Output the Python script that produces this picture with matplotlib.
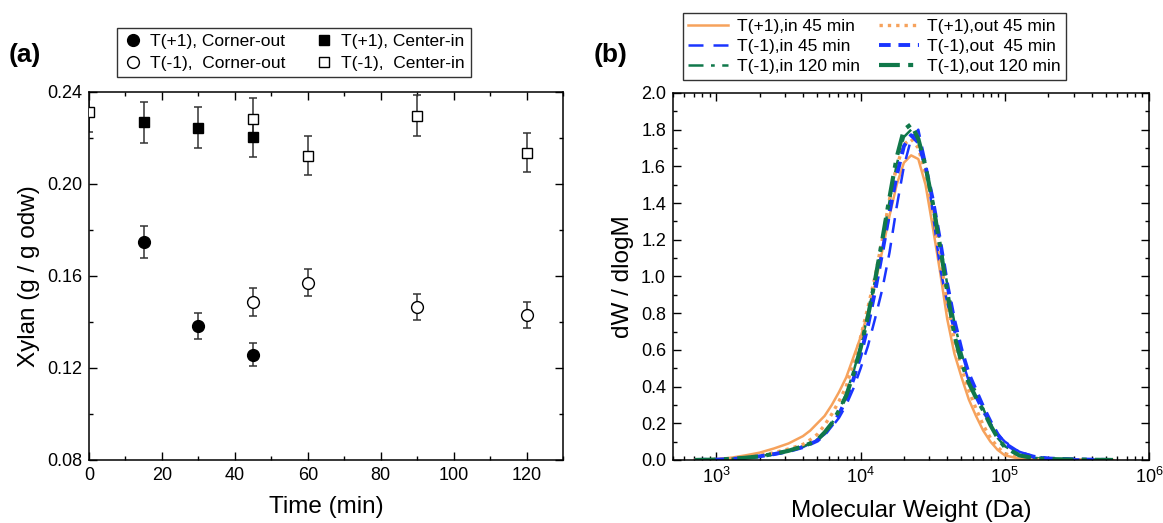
import numpy as np
import matplotlib
matplotlib.use("Agg")
import matplotlib.pyplot as plt
from matplotlib.ticker import MultipleLocator, LogLocator, NullFormatter

plt.rcParams['font.family'] = ['Liberation Sans', 'DejaVu Sans']
plt.rcParams['mathtext.fontset'] = 'custom'
plt.rcParams['mathtext.rm'] = 'Liberation Sans'
plt.rcParams['mathtext.it'] = 'Liberation Sans:italic'

# ---- panel (a): xylan content ----
t_hot_corner = [15, 30, 45]
x_hot_corner = [0.1747, 0.1383, 0.1257]
e_hot_corner = [0.007, 0.0057, 0.005]

t_cold_corner = [45, 60, 90, 120]
x_cold_corner = [0.1488, 0.1571, 0.1465, 0.1429]
e_cold_corner = [0.006, 0.006, 0.0057, 0.0057]

t_hot_center = [15, 30, 45]
x_hot_center = [0.2268, 0.2245, 0.2206]
e_hot_center = [0.009, 0.009, 0.009]

t_cold_center = [0, 45, 60, 90, 120]
x_cold_center = [0.2314, 0.2283, 0.2122, 0.2297, 0.2136]
e_cold_center = [0.009, 0.009, 0.0085, 0.009, 0.0085]

# ---- panel (b): molecular weight distributions ----
log_m = [2.85, 3.0, 3.1, 3.2, 3.3, 3.4, 3.5, 3.6, 3.65, 3.7, 3.75, 3.8, 3.85, 3.9,
         3.95, 4.0, 4.05, 4.1, 4.15, 4.2, 4.25, 4.3, 4.35, 4.4, 4.45, 4.5, 4.55,
         4.6, 4.65, 4.7, 4.75, 4.8, 4.85, 4.9, 4.95, 5.0, 5.1, 5.2, 5.3, 5.5, 5.75]

hot_in_45 = [0.0, 0.005, 0.012, 0.025, 0.04, 0.063, 0.09, 0.13, 0.16, 0.2, 0.24, 0.3,
             0.37, 0.45, 0.56, 0.67, 0.8, 0.96, 1.14, 1.33, 1.5, 1.62, 1.66, 1.64,
             1.5, 1.27, 1.03, 0.77, 0.58, 0.45, 0.33, 0.24, 0.16, 0.1, 0.055, 0.025,
             0.007, 0.002, 0.0, 0.0, 0.0]
hot_out_45 = [0.0, 0.003, 0.008, 0.015, 0.025, 0.04, 0.06, 0.085, 0.11, 0.14, 0.19, 0.25,
              0.32, 0.4, 0.53, 0.67, 0.83, 1.0, 1.2, 1.42, 1.6, 1.72, 1.75, 1.7,
              1.56, 1.36, 1.12, 0.86, 0.65, 0.5, 0.38, 0.28, 0.19, 0.12, 0.07, 0.035,
              0.01, 0.004, 0.001, 0.0, 0.0]
cold_in_45 = [0.0, 0.002, 0.005, 0.01, 0.02, 0.03, 0.045, 0.07, 0.09, 0.11, 0.14, 0.18,
              0.23, 0.3, 0.39, 0.5, 0.62, 0.77, 0.93, 1.13, 1.38, 1.6, 1.75, 1.8,
              1.62, 1.35, 1.05, 0.86, 0.7, 0.55, 0.43, 0.34, 0.26, 0.2, 0.14, 0.1,
              0.045, 0.02, 0.01, 0.003, 0.0]
cold_out_45 = [0.0, 0.002, 0.005, 0.011, 0.02, 0.032, 0.048, 0.07, 0.087, 0.105, 0.14, 0.19,
               0.25, 0.33, 0.44, 0.57, 0.73, 0.92, 1.13, 1.35, 1.55, 1.71, 1.77, 1.73,
               1.6, 1.42, 1.2, 0.96, 0.76, 0.6, 0.47, 0.38, 0.29, 0.21, 0.14, 0.09,
               0.04, 0.018, 0.008, 0.003, 0.0]
cold_in_120 = [0.0, 0.002, 0.006, 0.012, 0.021, 0.034, 0.05, 0.074, 0.09, 0.112, 0.15, 0.2,
               0.27, 0.36, 0.48, 0.62, 0.79, 0.98, 1.19, 1.41, 1.61, 1.76, 1.8, 1.74,
               1.6, 1.41, 1.19, 0.96, 0.75, 0.58, 0.45, 0.37, 0.28, 0.19, 0.12, 0.075,
               0.03, 0.012, 0.005, 0.002, 0.0]
cold_out_120 = [0.0, 0.002, 0.006, 0.012, 0.02, 0.033, 0.05, 0.075, 0.09, 0.11, 0.15, 0.2,
                0.27, 0.35, 0.47, 0.61, 0.78, 0.98, 1.2, 1.43, 1.65, 1.8, 1.83, 1.75,
                1.6, 1.4, 1.17, 0.92, 0.68, 0.53, 0.42, 0.34, 0.27, 0.19, 0.12, 0.07,
                0.025, 0.01, 0.005, 0.002, 0.0]

orange = '#f6a25c'
blue = '#1a35ff'
green = '#10784a'
ebar = '#333333'

fig = plt.figure(figsize=(11.63, 5.23), dpi=100)
ax1 = fig.add_axes([0.0765, 0.1205, 0.4076, 0.7036])
ax2 = fig.add_axes([0.5787, 0.1205, 0.4093, 0.7017])

# error bars first, then markers on top
for t, v, e in [(t_hot_corner, x_hot_corner, e_hot_corner),
                (t_cold_corner, x_cold_corner, e_cold_corner),
                (t_hot_center, x_hot_center, e_hot_center),
                (t_cold_center, x_cold_center, e_cold_center)]:
    ax1.errorbar(t, v, yerr=e, fmt='none', ecolor=ebar, elinewidth=1.1,
                 capsize=3, capthick=1.1, zorder=2)

ax1.plot(t_hot_corner, x_hot_corner, 'o', ms=8.5, mfc='black', mec='black',
         label='T(+1), Corner-out', zorder=3)
ax1.plot(t_cold_corner, x_cold_corner, 'o', ms=8.5, mfc='white', mec='black', mew=1,
         label='T(-1),  Corner-out', zorder=3)
ax1.plot(t_hot_center, x_hot_center, 's', ms=7.5, mfc='black', mec='black',
         label='T(+1), Center-in', zorder=3)
ax1.plot(t_cold_center, x_cold_center, 's', ms=7.5, mfc='white', mec='black', mew=1,
         label='T(-1),  Center-in', zorder=3)

ax1.set_xlim(0, 130)
ax1.set_ylim(0.08, 0.24)
ax1.xaxis.set_major_locator(MultipleLocator(20))
ax1.xaxis.set_minor_locator(MultipleLocator(10))
ax1.yaxis.set_major_locator(MultipleLocator(0.04))
ax1.yaxis.set_minor_locator(MultipleLocator(0.02))
ax1.yaxis.set_major_formatter(plt.FuncFormatter(lambda v, p: f'{v:.2f}'))
ax1.set_xlabel('Time (min)', fontsize=17.5, labelpad=9)
ax1.set_ylabel('Xylan (g / g odw)', fontsize=17.5, labelpad=5)
leg1 = ax1.legend(ncol=2, loc='upper center', bbox_to_anchor=(0.432, 1.198),
                  fontsize=12.5, frameon=True, fancybox=False, edgecolor='black',
                  handletextpad=0.4, columnspacing=1.6, borderpad=0.35,
                  labelspacing=0.4, handlelength=1.2)
leg1.get_frame().set_linewidth(1.0)

# molecular weight curves
mw = 10 ** np.array(log_m)
ax2.plot(mw, hot_in_45, color=orange, lw=1.8, ls='-', label='T(+1),in 45 min')
ax2.plot(mw, cold_in_45, color=blue, lw=1.8, ls=(0, (6, 4)), label='T(-1),in 45 min')
ax2.plot(mw, cold_in_120, color=green, lw=1.8, ls=(0, (6, 3, 1.5, 3)), label='T(-1),in 120 min')
ax2.plot(mw, hot_out_45, color=orange, lw=2.4, ls=(0, (1, 1.5)), label='T(+1),out 45 min')
ax2.plot(mw, cold_out_45, color=blue, lw=2.8, ls=(0, (3, 2)), label='T(-1),out  45 min')
ax2.plot(mw, cold_out_120, color=green, lw=3.0, ls=(0, (5, 2, 1.2, 2)), label='T(-1),out 120 min')

ax2.set_xscale('log')
ax2.set_xlim(500, 1e6)
ax2.set_ylim(0, 2.0)
ax2.xaxis.set_major_locator(LogLocator(base=10, numticks=10))
ax2.xaxis.set_minor_locator(LogLocator(base=10, subs=np.arange(2, 10), numticks=20))
ax2.xaxis.set_minor_formatter(NullFormatter())
ax2.yaxis.set_major_locator(MultipleLocator(0.2))
ax2.yaxis.set_minor_locator(MultipleLocator(0.1))
ax2.yaxis.set_major_formatter(plt.FuncFormatter(lambda v, p: f'{v:.1f}'))
ax2.set_xlabel('Molecular Weight (Da)', fontsize=17.5, labelpad=9)
ax2.set_ylabel('dW / dlogM', fontsize=17.5, labelpad=5)
leg2 = ax2.legend(ncol=2, loc='upper center', bbox_to_anchor=(0.423, 1.241),
                  fontsize=12.5, frameon=True, fancybox=False, edgecolor='black',
                  handletextpad=0.5, columnspacing=1.1, borderpad=0.3,
                  labelspacing=0.3, handlelength=2.3)
leg2.get_frame().set_linewidth(1.0)

for ax in (ax1, ax2):
    ax.tick_params(which='both', direction='in', top=True, right=True,
                   labelsize=13, colors='black', width=1)
    ax.tick_params(which='major', length=6, pad=5)
    ax.tick_params(which='minor', length=3)
    for s in ax.spines.values():
        s.set_linewidth(1.1)

fig.text(0.007, 0.895, '(a)', fontsize=19, fontweight='bold', va='center')
fig.text(0.51, 0.895, '(b)', fontsize=19, fontweight='bold', va='center')

fig.savefig('out.png', dpi=100)
